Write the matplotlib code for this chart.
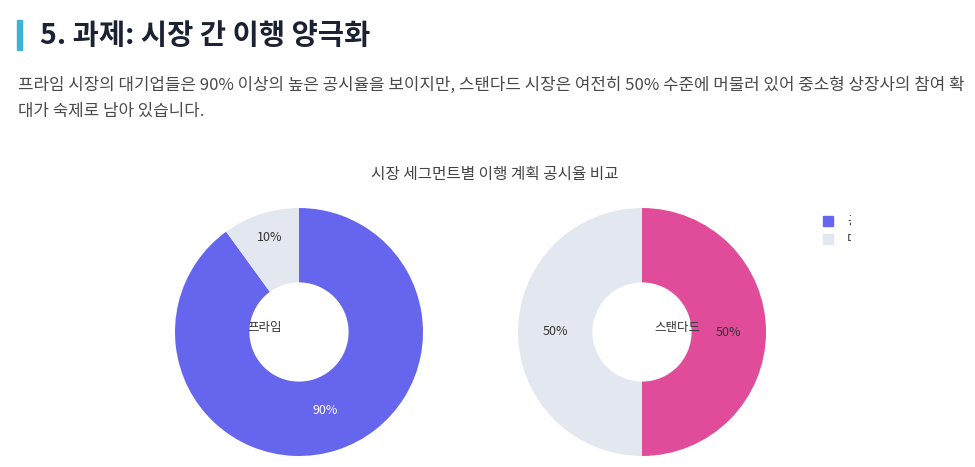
import matplotlib.pyplot as plt
from matplotlib.patches import Rectangle

plt.rcParams['font.family'] = ['Noto Sans CJK KR', 'DejaVu Sans']

# data
segments = ["프라임", "스탠다드"]
disclosed = [90, 50]
not_disclosed = [10, 50]
legend_labels = ["공시", "미공시"]
seg_colors = ["#6665ee", "#e04c9a"]
grey = "#e2e7f0"

W, H = 975, 467
fig = plt.figure(figsize=(W / 100, H / 100), dpi=100)

def px(x, y):
    return x / W, 1 - y / H

# heading
fig.patches.append(Rectangle(px(17, 50), 5 / W, 30 / H, transform=fig.transFigure,
                             color="#3bb5d6", zorder=3))
fig.text(*px(40, 36), "5. 과제: 시장 간 이행 양극화", fontsize=20.5, fontweight="bold",
         color="#1a2233", va="center")
fig.text(*px(18, 85), "프라임 시장의 대기업들은 90% 이상의 높은 공시율을 보이지만, 스탠다드 시장은 여전히 50% 수준에 머물러 있어 중소형 상장사의 참여 확",
         fontsize=12.1, color="#4a4a4a", va="center")
fig.text(*px(18, 111), "대가 숙제로 남아 있습니다.", fontsize=12.1, color="#4a4a4a", va="center")

fig.text(*px(495, 175), "시장 세그먼트별 이행 계획 공시율 비교", fontsize=11.3, color="#444444",
         ha="center", va="center")

centers = [(299, 332), (642, 332)]
radius = 124
name_pos = [(265, 328), (677, 328)]
for i, seg in enumerate(segments):
    cx, cy = centers[i]
    x0, y0 = px(cx - radius, cy + radius)
    ax = fig.add_axes([x0, y0, 2 * radius / W, 2 * radius / H])
    wedges, texts, autotexts = ax.pie([disclosed[i], not_disclosed[i]],
                                      colors=[seg_colors[i], grey],
                                      startangle=90, counterclock=False,
                                      autopct="%d%%", pctdistance=0.7,
                                      wedgeprops=dict(width=0.6, linewidth=0),
                                      textprops=dict(fontsize=9, color="#333333"))
    if i == 0:
        autotexts[0].set_color("white")
        autotexts[0].set_position((0.21, -0.63))
        autotexts[1].set_position((-0.24, 0.76))
    ax.set_xlim(-1, 1)
    ax.set_ylim(-1, 1)
    ax.set_aspect("equal")
    fig.text(*px(*name_pos[i]), seg, fontsize=9, color="#333333", ha="center", va="center")

# legend (labels are cut off in the original)
clip = Rectangle(px(760, 260), (851 - 760) / W, 60 / H, transform=fig.transFigure,
                 visible=False)
fig.patches.append(clip)
for j, lab in enumerate(legend_labels):
    ly = 221 + 18 * j
    fig.patches.append(Rectangle(px(823, ly + 5), 10 / W, 10 / H, transform=fig.transFigure,
                                 color=[seg_colors[0], grey][j]))
    t = fig.text(*px(847, ly), lab, fontsize=9, color="#333333", va="center")
    t.set_clip_path(clip)

fig.savefig("out.png", dpi=100)
